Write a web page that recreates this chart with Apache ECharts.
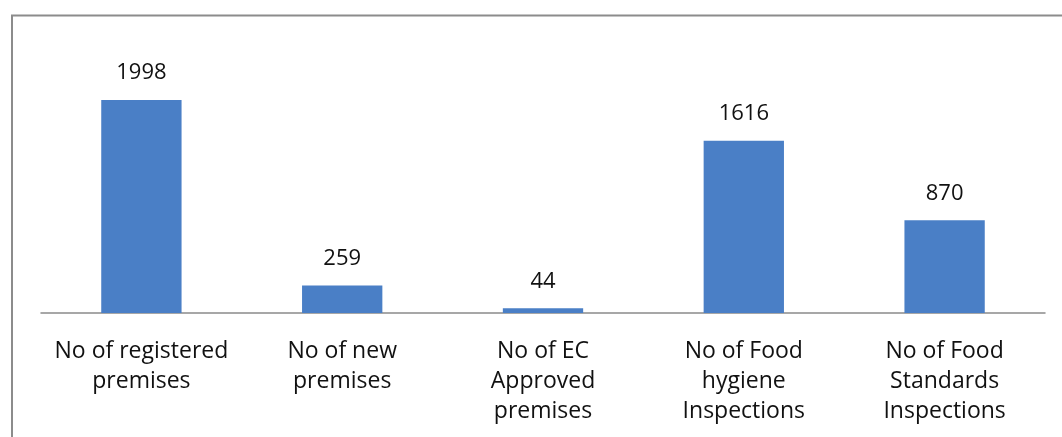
<!DOCTYPE html>
<html><head><meta charset="utf-8">
<script src="https://cdn.jsdelivr.net/npm/echarts@6/dist/echarts.min.js"></script>
<style>html,body{margin:0;padding:0;background:#fff}#c{width:1062px;height:437px}</style>
</head><body><div id="c"></div>
<script>
const categories = ["No of registered\npremises","No of new\npremises","No of EC\nApproved\npremises","No of Food\nhygiene\nInspections","No of Food\nStandards\nInspections"];
const values = [1998, 259, 44, 1616, 870];

const chart = echarts.init(document.getElementById('c'), null, {renderer:'canvas'});
chart.setOption({
  animation:false,
  backgroundColor:'#fff',
  graphic:[{type:'polyline',shape:{points:[[12,437],[12,15.5],[1062,15.5]]},style:{stroke:'#8c8c8c',lineWidth:2,fill:null}}],
  grid:{left:41,right:17,top:46.5,bottom:124},
  xAxis:{type:'category',data:categories,
    axisLine:{lineStyle:{color:'#8a8a8a',width:1.5}},axisTick:{show:false},
    axisLabel:{interval:0,margin:23,color:'#111',fontFamily:'Open Sans',fontSize:23,lineHeight:30}},
  yAxis:{type:'value',min:0,max:2500,show:false,splitLine:{show:false}},
  series:[{type:'bar',data:values,barWidth:'40%',
    itemStyle:{color:'#4a7fc6'},
    label:{show:true,position:'top',distance:16,color:'#111',fontFamily:'Open Sans',fontSize:22}}]
});
</script></body></html>
